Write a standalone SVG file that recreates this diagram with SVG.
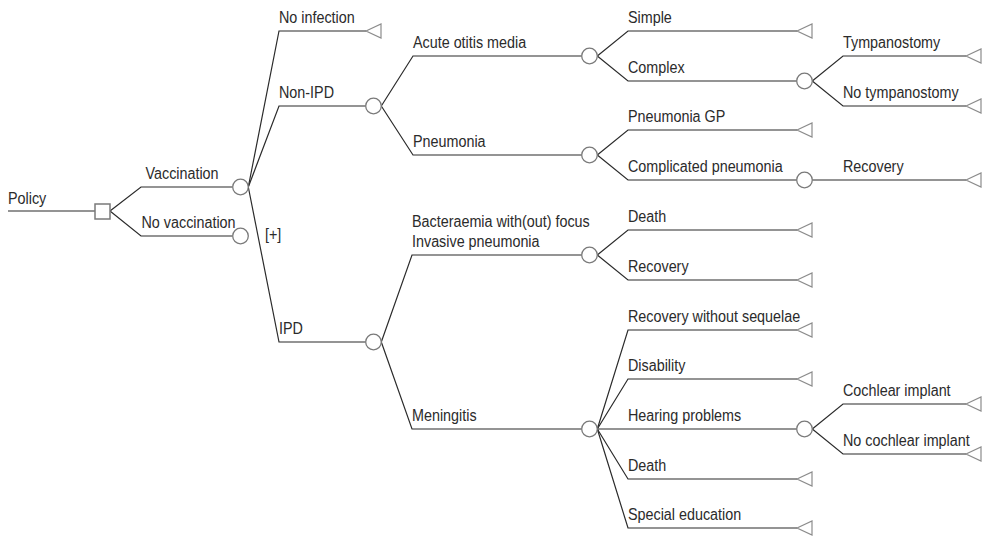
<svg xmlns="http://www.w3.org/2000/svg" xmlns:xlink="http://www.w3.org/1999/xlink" width="983" height="537" viewBox="0 0 983 537">
<style>
.edge{fill:none;stroke:#2b2b2b;stroke-width:1.2}
.chance{fill:#fff;stroke:#7a7a7a;stroke-width:1.3}
.decision{fill:#fff;stroke:#7a7a7a;stroke-width:1.5}
.term{fill:#fff;stroke:#8c8c8c;stroke-width:1.2}
text{font-family:"Liberation Sans",Arial,sans-serif;font-size:17.3px;fill:#2b2b2b}
</style>
<defs>
<polygon id="tri" class="term" points="0,0 15,-7 15,7"/>
<circle id="chc" class="chance" r="7.8" cx="0" cy="0"/>
</defs>
<rect width="983" height="537" fill="#fff"/>
<g id="connectors">
<path class="edge" d="M8,211 H95"/>
<path class="edge" d="M110,211 L141,187 H232.5"/>
<path class="edge" d="M110,211 L141,236 H232.5"/>
<path class="edge" d="M248.3,187 L279,31 H366"/>
<path class="edge" d="M248.3,187 L279,106 H365.7"/>
<path class="edge" d="M248.3,187 L279,342 H365.7"/>
<path class="edge" d="M381.3,106 L413,56 H581.7"/>
<path class="edge" d="M381.3,106 L413,155 H581.7"/>
<path class="edge" d="M381.3,342 L412,255 H581.7"/>
<path class="edge" d="M381.3,342 L412,429 H581.7"/>
<path class="edge" d="M597.3,56 L628,31 H797"/>
<path class="edge" d="M597.3,56 L628,81 H796.7"/>
<path class="edge" d="M597.3,155 L628,130 H797"/>
<path class="edge" d="M597.3,155 L628,180 H796.7"/>
<path class="edge" d="M597.3,255 L628,230 H797"/>
<path class="edge" d="M597.3,255 L628,280 H797"/>
<path class="edge" d="M597.3,429 L628,330 H797"/>
<path class="edge" d="M597.3,429 L628,379 H797"/>
<path class="edge" d="M597.3,429 H796.7"/>
<path class="edge" d="M597.3,429 L628,479 H797"/>
<path class="edge" d="M597.3,429 L628,528 H797"/>
<path class="edge" d="M812.3,81 L843,56 H966"/>
<path class="edge" d="M812.3,81 L843,106 H966"/>
<path class="edge" d="M812.3,180 H966"/>
<path class="edge" d="M812.3,429 L843,404 H966"/>
<path class="edge" d="M812.3,429 L843,454 H966"/>
</g>
<g id="policy"><rect class="decision" x="95" y="204" width="15" height="15"/><text transform="matrix(0.83,0,0,1,8,204)">Policy</text></g>
<g id="vaccination"><use xlink:href="#chc" x="240.5" y="187"/><text transform="matrix(0.83,0,0,1,145.5,179)">Vaccination</text></g>
<g id="no-vaccination"><use xlink:href="#chc" x="240.5" y="236"/><text transform="matrix(0.83,0,0,1,141.5,228)">No vaccination</text><text transform="matrix(0.83,0,0,1,265,240)">[+]</text></g>
<g id="no-infection"><use xlink:href="#tri" x="366" y="31"/><text transform="matrix(0.83,0,0,1,279,23)">No infection</text></g>
<g id="non-ipd"><use xlink:href="#chc" x="373.5" y="106"/><text transform="matrix(0.83,0,0,1,279,98)">Non-IPD</text></g>
<g id="ipd"><use xlink:href="#chc" x="373.5" y="342"/><text transform="matrix(0.83,0,0,1,279,334)">IPD</text></g>
<g id="aom"><use xlink:href="#chc" x="589.5" y="56"/><text transform="matrix(0.83,0,0,1,413,48)">Acute otitis media</text></g>
<g id="pneumonia"><use xlink:href="#chc" x="589.5" y="155"/><text transform="matrix(0.83,0,0,1,413,147)">Pneumonia</text></g>
<g id="bacteraemia"><use xlink:href="#chc" x="589.5" y="255"/><text transform="matrix(0.83,0,0,1,412,227)">Bacteraemia with(out) focus</text><text transform="matrix(0.83,0,0,1,412,246.5)">Invasive pneumonia</text></g>
<g id="meningitis"><use xlink:href="#chc" x="589.5" y="429"/><text transform="matrix(0.83,0,0,1,412,421)">Meningitis</text></g>
<g id="simple"><use xlink:href="#tri" x="797" y="31"/><text transform="matrix(0.83,0,0,1,628,23)">Simple</text></g>
<g id="complex"><use xlink:href="#chc" x="804.5" y="81"/><text transform="matrix(0.83,0,0,1,628,73)">Complex</text></g>
<g id="pneumonia-gp"><use xlink:href="#tri" x="797" y="130"/><text transform="matrix(0.83,0,0,1,628,122)">Pneumonia GP</text></g>
<g id="complicated-pneumonia"><use xlink:href="#chc" x="804.5" y="180"/><text transform="matrix(0.83,0,0,1,628,172)">Complicated pneumonia</text></g>
<g id="bact-death"><use xlink:href="#tri" x="797" y="230"/><text transform="matrix(0.83,0,0,1,628,222)">Death</text></g>
<g id="bact-recovery"><use xlink:href="#tri" x="797" y="280"/><text transform="matrix(0.83,0,0,1,628,272)">Recovery</text></g>
<g id="recovery-without-sequelae"><use xlink:href="#tri" x="797" y="330"/><text transform="matrix(0.83,0,0,1,628,322)">Recovery without sequelae</text></g>
<g id="disability"><use xlink:href="#tri" x="797" y="379"/><text transform="matrix(0.83,0,0,1,628,371)">Disability</text></g>
<g id="hearing-problems"><use xlink:href="#chc" x="804.5" y="429"/><text transform="matrix(0.83,0,0,1,628,421)">Hearing problems</text></g>
<g id="men-death"><use xlink:href="#tri" x="797" y="479"/><text transform="matrix(0.83,0,0,1,628,471)">Death</text></g>
<g id="special-education"><use xlink:href="#tri" x="797" y="528"/><text transform="matrix(0.83,0,0,1,628,520)">Special education</text></g>
<g id="tympanostomy"><use xlink:href="#tri" x="966" y="56"/><text transform="matrix(0.83,0,0,1,843,48)">Tympanostomy</text></g>
<g id="no-tympanostomy"><use xlink:href="#tri" x="966" y="106"/><text transform="matrix(0.83,0,0,1,843,98)">No tympanostomy</text></g>
<g id="cp-recovery"><use xlink:href="#tri" x="966" y="180"/><text transform="matrix(0.83,0,0,1,843,172)">Recovery</text></g>
<g id="cochlear-implant"><use xlink:href="#tri" x="966" y="404"/><text transform="matrix(0.83,0,0,1,843,396)">Cochlear implant</text></g>
<g id="no-cochlear-implant"><use xlink:href="#tri" x="966" y="454"/><text transform="matrix(0.83,0,0,1,843,446)">No cochlear implant</text></g>
</svg>
